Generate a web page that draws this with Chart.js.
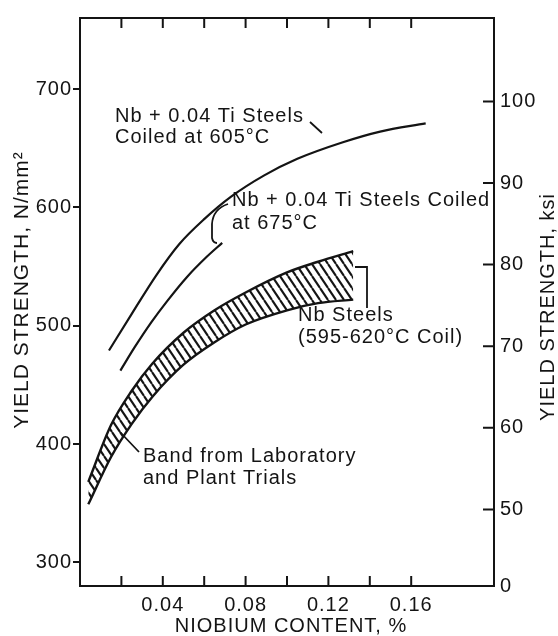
<!DOCTYPE html>
<html>
<head>
<meta charset="utf-8">
<title>Yield strength vs niobium content</title>
<script src="https://cdn.jsdelivr.net/npm/chart.js@4.4.0/dist/chart.umd.min.js"></script>
<style>
  html, body { margin: 0; padding: 0; background: #fff; }
  #wrap { width: 558px; height: 636px; }
  canvas { display: block; }
</style>
</head>
<body>
<div id="wrap"><canvas id="myChart" width="558" height="636"></canvas></div>
<script>
// niobium content (%) against yield strength (N/mm2)
const ti605X = [0.014, 0.025, 0.037, 0.048, 0.060, 0.073, 0.089, 0.105, 0.127, 0.145, 0.167];
const ti605Y = [479, 510, 543, 569, 590, 609, 627, 641, 655, 664, 671];

const ti675X = [0.0195, 0.0265, 0.0345, 0.0422, 0.0516, 0.0611, 0.0687];
const ti675Y = [462, 482, 503, 521, 541, 558, 570];

// hatched band, Nb steels 595-620 C coil
const bandX    = [0.004, 0.015, 0.025, 0.035, 0.050, 0.065, 0.080, 0.100, 0.115, 0.132];
const bandHigh = [368, 416, 445, 468, 494, 513, 528, 545, 554, 563];
const bandLow  = [349, 389, 417, 440, 467, 486, 501, 513, 519, 522];

const xLabelTicks = [0.04, 0.08, 0.12, 0.16];
const xMarkTicks  = [0.02, 0.04, 0.06, 0.08, 0.10, 0.12, 0.14, 0.16];
const yTicks      = [300, 400, 500, 600, 700];
const ksiTicks    = [50, 60, 70, 80, 90, 100];
const ksiLabels   = ['0', '50', '60', '70', '80', '90', '100'];

const KSI = 6.895;          // N/mm2 per ksi
const yMin = 280, yMax = 760;
const xMin = 0, xMax = 0.20;

const ink = '#141414';
const FONT = '"Liberation Sans", Arial, sans-serif';

Chart.defaults.font.family = FONT;
Chart.defaults.font.size = 20;
Chart.defaults.color = ink;

const pts = (xs, ys) => xs.map((x, i) => ({ x: x, y: ys[i] }));

// diagonal hatch used to fill the band
const hatch = document.createElement('canvas');
hatch.width = 8; hatch.height = 12;
const hc = hatch.getContext('2d');
hc.strokeStyle = ink;
hc.lineWidth = 2.1;
for (let k = -1; k <= 1; k++) {
  hc.beginPath();
  hc.moveTo(k * 8, 0);
  hc.lineTo(k * 8 + 8, 12);
  hc.stroke();
}
const hatchFill = hc.createPattern(hatch, 'repeat');

const notes = [
  { lines: ['Nb + 0.04 Ti Steels', 'Coiled at 605\u00B0C'], x: 115, y: 116, gap: 21 },
  { lines: ['Nb + 0.04 Ti Steels Coiled', 'at 675\u00B0C'], x: 232, y: 200, gap: 23 },
  { lines: ['Nb Steels', '(595-620\u00B0C Coil)'], x: 298, y: 315, gap: 22 },
  { lines: ['Band from Laboratory', 'and Plant Trials'], x: 143, y: 456, gap: 22 }
];

const spacing = {
  id: 'spacing',
  beforeUpdate(c) { c.ctx.letterSpacing = '1px'; },
  beforeDraw(c) { c.ctx.letterSpacing = '1px'; }
};

const decor = {
  id: 'decor',
  afterDraw(c) {
    const ctx = c.ctx;
    const a = c.chartArea;
    const sx = c.scales.x, sy2 = c.scales.y2;
    ctx.save();
    ctx.strokeStyle = ink;
    ctx.fillStyle = ink;
    ctx.lineCap = 'butt';

    // frame
    ctx.lineWidth = 2;
    ctx.strokeRect(a.left, a.top, a.right - a.left, a.bottom - a.top);

    // inward tick marks on top, bottom and right side
    ctx.beginPath();
    xMarkTicks.forEach(v => {
      const px = sx.getPixelForValue(v);
      ctx.moveTo(px, a.top); ctx.lineTo(px, a.top + 10);
      ctx.moveTo(px, a.bottom); ctx.lineTo(px, a.bottom - 10);
    });
    ksiTicks.forEach(v => {
      const py = sy2.getPixelForValue(v);
      ctx.moveTo(a.right, py); ctx.lineTo(a.right - 11, py);
    });
    ctx.stroke();

    // leaders
    ctx.lineWidth = 1.8;
    ctx.beginPath();
    ctx.moveTo(310, 122); ctx.lineTo(322, 133);
    ctx.moveTo(228, 204);
    ctx.quadraticCurveTo(213, 209, 212, 224);
    ctx.lineTo(212, 238);
    ctx.quadraticCurveTo(213, 243, 217, 243);
    ctx.moveTo(355, 267); ctx.lineTo(367, 267); ctx.lineTo(367, 308);
    ctx.moveTo(120, 432); ctx.lineTo(139, 452);
    ctx.stroke();

    // notes
    ctx.font = '20px ' + FONT;
    ctx.textAlign = 'left';
    ctx.textBaseline = 'middle';
    notes.forEach(n => {
      n.lines.forEach((t, i) => ctx.fillText(t, n.x, n.y + i * n.gap));
    });

    // axis titles
    ctx.textAlign = 'center';
    ctx.fillText('NIOBIUM CONTENT, %', 291, 626);
    ctx.save();
    ctx.translate(22, 290);
    ctx.rotate(-Math.PI / 2);
    ctx.font = '21px ' + FONT;
    ctx.fillText('YIELD STRENGTH, N/mm\u00B2', 0, 0);
    ctx.restore();
    ctx.save();
    ctx.translate(548, 307);
    ctx.rotate(-Math.PI / 2);
    ctx.fillText('YIELD STRENGTH, ksi', 0, 0);
    ctx.restore();

    ctx.restore();
  }
};

let myChart = document.getElementById('myChart').getContext('2d');

let strengthChart = new Chart(myChart, {
  type: 'line',
  data: {
    datasets: [
      {
        label: 'Nb + 0.04 Ti, coiled at 605 C',
        data: pts(ti605X, ti605Y),
        borderColor: ink,
        borderWidth: 2.2,
        cubicInterpolationMode: 'monotone',
        pointRadius: 0,
        fill: false
      },
      {
        label: 'Nb + 0.04 Ti, coiled at 675 C',
        data: pts(ti675X, ti675Y),
        borderColor: ink,
        borderWidth: 2.2,
        cubicInterpolationMode: 'monotone',
        pointRadius: 0,
        fill: false
      },
      {
        label: 'Nb steels, low',
        data: pts(bandX, bandLow),
        borderColor: ink,
        borderWidth: 2.4,
        cubicInterpolationMode: 'monotone',
        pointRadius: 0,
        fill: false
      },
      {
        label: 'Nb steels, high',
        data: pts(bandX, bandHigh),
        borderColor: ink,
        borderWidth: 2.4,
        cubicInterpolationMode: 'monotone',
        pointRadius: 0,
        backgroundColor: hatchFill,
        fill: { target: 2 }
      }
    ]
  },
  options: {
    responsive: false,
    animation: false,
    events: [],
    layout: { padding: { top: 15, left: 0, right: 0, bottom: 0 } },
    plugins: {
      legend: { display: false },
      tooltip: { enabled: false }
    },
    scales: {
      x: {
        type: 'linear',
        position: 'bottom',
        min: xMin,
        max: xMax,
        afterBuildTicks: s => { s.ticks = xLabelTicks.map(v => ({ value: v })); },
        afterFit: s => { s.height = 50; },
        grid: { display: false, drawTicks: false },
        border: { display: false },
        ticks: { padding: 7, maxRotation: 0, callback: v => v.toFixed(2) }
      },
      y: {
        type: 'linear',
        position: 'left',
        min: yMin,
        max: yMax,
        afterBuildTicks: s => { s.ticks = yTicks.map(v => ({ value: v })); },
        afterFit: s => { s.width = 80; },
        grid: { drawOnChartArea: false, drawTicks: true, tickLength: 7, color: ink, lineWidth: 2 },
        border: { display: false },
        ticks: { padding: 1 }
      },
      y2: {
        type: 'linear',
        position: 'right',
        min: yMin / KSI,
        max: yMax / KSI,
        afterBuildTicks: s => {
          s.ticks = [{ value: s.min }].concat(ksiTicks.map(v => ({ value: v })));
        },
        afterFit: s => { s.width = 64; },
        grid: { display: false, drawTicks: false },
        border: { display: false },
        ticks: { padding: 6, callback: (v, i) => ksiLabels[i] }
      }
    }
  },
  plugins: [spacing, decor]
});
</script>
</body>
</html>
